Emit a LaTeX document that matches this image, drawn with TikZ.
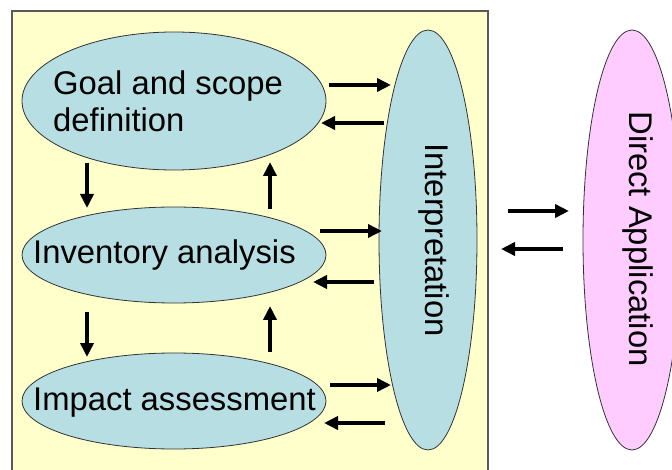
\documentclass[tikz,border=0pt]{standalone}
\usepackage{fontspec}
\setmainfont{Liberation Sans}
\usetikzlibrary{shapes.geometric,arrows.meta}
\definecolor{bgyellow}{RGB}{255,255,204}
\definecolor{lblue}{RGB}{183,222,226}
\definecolor{lpink}{RGB}{255,204,255}
\begin{document}
\begin{tikzpicture}[x=1pt,y=-1pt,
  ell/.style={ellipse,draw=black!80,line width=0.8pt,inner sep=0pt},
  lbl/.style={font=\fontsize{32.8}{36.5}\selectfont,inner sep=0pt,align=left},
  arr/.style={line width=3.6pt,-{Triangle[length=14pt,width=13pt]}}]
\fill[white] (0,0) rectangle (672,470);
\useasboundingbox (0,0) rectangle (672,470);
\draw[fill=bgyellow,draw=black!65,line width=1.5pt] (12,11) rectangle (488,485);
% ellipses
\node[ell,fill=lblue,minimum width=304pt,minimum height=138pt] (goal) at (174,101) {};
\node[ell,fill=lblue,minimum width=304pt,minimum height=96pt] (inv) at (174,255) {};
\node[ell,fill=lblue,minimum width=304pt,minimum height=96pt] (imp) at (174,401) {};
\node[ell,fill=lblue,minimum width=98pt,minimum height=420pt] (interp) at (428,240) {};
\node[ell,fill=lpink,minimum width=98pt,minimum height=420pt] (direct) at (632,240) {};
% texts
\node[lbl,anchor=west] (goalt) at (53,101.5) {Goal and scope\\definition};
\node[lbl,anchor=base west] (invt) at (33,264) {Inventory analysis};
\node[lbl,anchor=base west] (impt) at (33,410) {Impact assessment};
\node[lbl,rotate=-90,anchor=base] (interpt) at (425,240) {Interpretation};
\node[lbl,rotate=-90,anchor=base] (directt) at (629,239) {Direct Application};
% arrow end points
\coordinate (a1s) at (329,85);  \coordinate (a1e) at (391,85);
\coordinate (a2s) at (384,123); \coordinate (a2e) at (321,123);
\coordinate (a3s) at (320,231); \coordinate (a3e) at (382,231);
\coordinate (a4s) at (374,282); \coordinate (a4e) at (313,282);
\coordinate (a5s) at (330,385); \coordinate (a5e) at (391,385);
\coordinate (a6s) at (385,423); \coordinate (a6e) at (324,423);
\coordinate (a7s) at (508,211); \coordinate (a7e) at (569,211);
\coordinate (a8s) at (563,249); \coordinate (a8e) at (501,249);
\coordinate (v1s) at (87,163);  \coordinate (v1e) at (87,208);
\coordinate (v2s) at (270,209); \coordinate (v2e) at (270,162);
\coordinate (v3s) at (87,312);  \coordinate (v3e) at (87,357);
\coordinate (v4s) at (270,352); \coordinate (v4e) at (270,306);
\foreach \a in {a1,a2,a3,a4,a5,a6,a7,a8,v1,v2,v3,v4}{
  \draw[arr] (\a s) -- (\a e);
}
\end{tikzpicture}
\end{document}
